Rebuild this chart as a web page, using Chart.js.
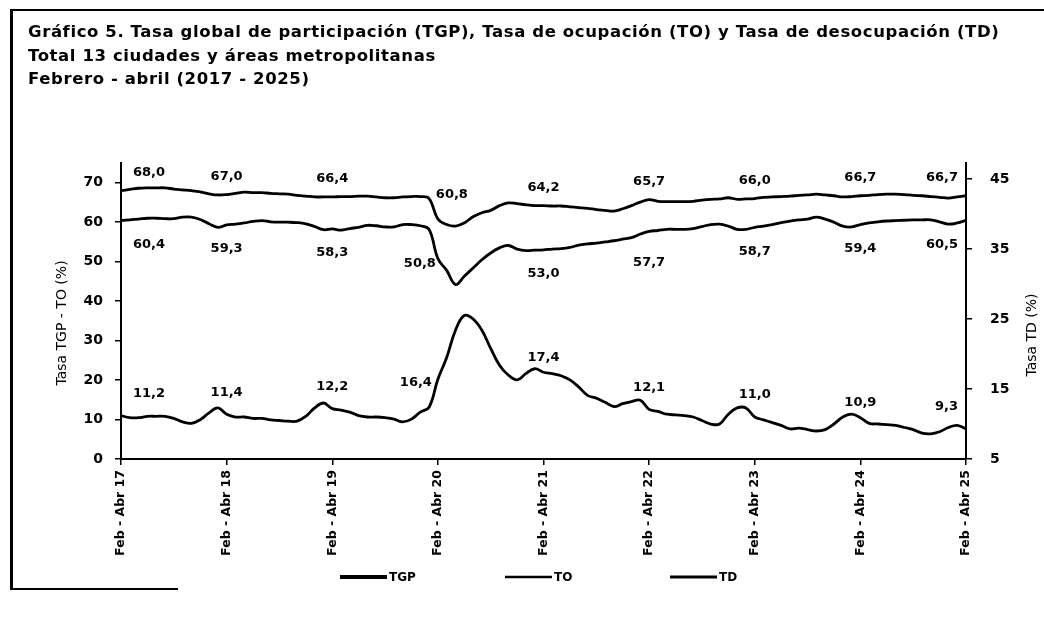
<!DOCTYPE html>
<html lang="es">
<head>
<meta charset="UTF-8">
<title>Gráfico 5 - TGP, TO y TD</title>
<script src="https://cdn.jsdelivr.net/npm/chart.js"></script>
<style>
  html, body { margin: 0; padding: 0; background: #fff; }
  .pagina { position: relative; width: 1044px; height: 617px; overflow: hidden; }
  canvas { position: absolute; left: 0; top: 0; }
  .titulo {
    position: absolute; left: 28px; top: 20px;
    font: bold 16.5px 'DejaVu Sans', sans-serif;
    letter-spacing: 0.6px;
    line-height: 23.6px; color: #000; white-space: nowrap;
  }
  .marco { position: absolute; background: #000; }
</style>
</head>
<body>
<div class="pagina">
  <canvas id="grafico" width="1044" height="617"></canvas>
  <div class="marco" style="left:10px; top:9px; width:1034px; height:2px;"></div>
  <div class="marco" style="left:10px; top:9px; width:2.5px; height:581px;"></div>
  <div class="marco" style="left:10px; top:588px; width:168px; height:2px;"></div>
  <div class="titulo">
    Gráfico 5. Tasa global de participación (TGP), Tasa de ocupación (TO) y Tasa de desocupación (TD)<br>
    Total 13 ciudades y áreas metropolitanas<br>
    Febrero - abril (2017 - 2025)
  </div>
</div>

<script>
  // trimestres móviles feb-abr 2017 ... feb-abr 2025
  const MESES = ["Ene", "Feb", "Mar", "Abr", "May", "Jun", "Jul", "Ago", "Sep", "Oct", "Nov", "Dic"];
  const trimestres = [];
  for (let i = 0; i < 97; i++) {
    const anio = 17 + Math.floor((3 + i) / 12);
    trimestres.push(MESES[(1 + i) % 12] + " - " + MESES[(3 + i) % 12] + " " + anio);
  }

  const tgp = [
    68.0, 68.3, 68.6, 68.7, 68.7, 68.7, 68.4, 68.2, 68.0, 67.7, 67.2, 66.9,
    67.0, 67.3, 67.6, 67.5, 67.5, 67.3, 67.2, 67.1, 66.8, 66.6, 66.4, 66.4,
    66.4, 66.5, 66.5, 66.6, 66.6, 66.4, 66.2, 66.2, 66.4, 66.5, 66.5, 66.0,
    60.8, 59.4, 59.0, 59.8, 61.4, 62.4, 63.0, 64.2, 64.9, 64.7, 64.4, 64.2,
    64.2, 64.1, 64.1, 63.9, 63.7, 63.5, 63.2, 63.0, 62.8, 63.4, 64.2, 65.1,
    65.7, 65.3, 65.2, 65.2, 65.2, 65.3, 65.6, 65.8, 65.9, 66.2, 65.8, 65.9,
    66.0, 66.3, 66.4, 66.5, 66.6, 66.8, 66.9, 67.1, 66.9, 66.7, 66.4, 66.5,
    66.7, 66.8, 67.0, 67.1, 67.1, 67.0, 66.8, 66.7, 66.5, 66.3, 66.1, 66.4,
    66.7
  ];
  const to = [
    60.4, 60.6, 60.8, 61.0, 61.0, 60.9, 60.9, 61.3, 61.3, 60.7, 59.6, 58.7,
    59.3, 59.5, 59.8, 60.2, 60.4, 60.1, 60.0, 60.0, 59.9, 59.6, 58.9, 58.1,
    58.3, 58.0, 58.4, 58.7, 59.2, 59.1, 58.8, 58.8, 59.4, 59.4, 59.1, 58.2,
    50.8, 47.8, 44.2, 46.3, 48.4, 50.5, 52.2, 53.5, 54.1, 53.2, 52.8, 52.9,
    53.0, 53.2, 53.3, 53.6, 54.2, 54.5, 54.7, 55.0, 55.3, 55.7, 56.1, 57.0,
    57.7, 57.9, 58.2, 58.2, 58.2, 58.4, 58.9, 59.4, 59.5, 59.0, 58.2, 58.2,
    58.7, 59.0, 59.4, 59.9, 60.3, 60.6, 60.8, 61.3, 60.8, 60.0, 59.0, 58.8,
    59.4, 59.8, 60.1, 60.3, 60.4, 60.5, 60.6, 60.6, 60.6, 60.1, 59.5, 59.8,
    60.5
  ];
  const td = [
    11.2, 10.9, 10.9, 11.1, 11.1, 11.1, 10.8, 10.3, 10.1, 10.6, 11.6, 12.3,
    11.4, 11.0, 11.0, 10.8, 10.8, 10.6, 10.5, 10.4, 10.4, 11.1, 12.3, 13.0,
    12.2, 12.0, 11.7, 11.2, 11.0, 11.0, 10.9, 10.7, 10.3, 10.7, 11.7, 12.4,
    16.4, 19.5, 23.4, 25.5, 25.0, 23.4, 20.8, 18.4, 17.0, 16.3, 17.2, 17.9,
    17.4, 17.2, 16.9, 16.3, 15.3, 14.1, 13.7, 13.1, 12.5, 12.9, 13.2, 13.4,
    12.1, 11.8, 11.4, 11.3, 11.2, 11.0, 10.5, 10.0, 10.0, 11.4, 12.3, 12.3,
    11.0, 10.6, 10.2, 9.8, 9.3, 9.4, 9.2, 9.0, 9.2, 10.0, 11.0, 11.4,
    10.9, 10.1, 10.0, 9.9, 9.8, 9.5, 9.2, 8.7, 8.6, 8.9, 9.5, 9.8,
    9.3
  ];

  const ticksTasa = [0, 10, 20, 30, 40, 50, 60, 70];
  const ticksTD = [5, 15, 25, 35, 45];

  const FUENTE = "'DejaVu Sans', sans-serif";

  // valores sobre las series cada feb-abr
  const etiquetasDatos = {
    id: "etiquetasDatos",
    afterDatasetsDraw(chart, args, opts) {
      const { ctx, chartArea } = chart;
      ctx.save();
      ctx.font = "bold 13px " + FUENTE;
      ctx.fillStyle = "#000";
      ctx.textAlign = "center";
      ctx.textBaseline = "middle";
      chart.data.datasets.forEach((ds, d) => {
        const pos = opts.posiciones[ds.label];
        chart.getDatasetMeta(d).data.forEach((pt, i) => {
          if (i % 12 !== 0) return;
          const txt = ds.data[i].toFixed(1).replace(".", ",");
          const w = ctx.measureText(txt).width;
          const p = (pos.especial && pos.especial[i]) || pos;
          let x = pt.x + (p.dx || 0);
          x = Math.max(chartArea.left + 12 + w / 2, Math.min(chartArea.right - 8 - w / 2, x));
          ctx.fillText(txt, x, pt.y + p.dy);
        });
      });
      ctx.restore();
    }
  };

  // títulos de ejes, ambos leídos de abajo hacia arriba
  const titulosEjes = {
    id: "titulosEjes",
    afterDraw(chart, args, opts) {
      const { ctx } = chart;
      ctx.save();
      ctx.font = "14px " + FUENTE;
      ctx.fillStyle = "#000";
      ctx.textAlign = "center";
      ctx.textBaseline = "middle";
      opts.titulos.forEach(t => {
        ctx.save();
        ctx.translate(t.x, t.y);
        ctx.rotate(-Math.PI / 2);
        ctx.fillText(t.texto, 0, 0);
        ctx.restore();
      });
      ctx.restore();
    }
  };

  const leyenda = {
    id: "leyenda",
    afterDraw(chart, args, opts) {
      const { ctx } = chart;
      ctx.save();
      ctx.font = "bold 12px " + FUENTE;
      ctx.fillStyle = "#000";
      ctx.strokeStyle = "#000";
      ctx.textAlign = "left";
      ctx.textBaseline = "middle";
      chart.data.datasets.forEach((ds, d) => {
        const x = opts.x + d * opts.paso;
        ctx.lineWidth = opts.grosor[d];
        ctx.beginPath();
        ctx.moveTo(x, opts.y);
        ctx.lineTo(x + opts.largo, opts.y);
        ctx.stroke();
        ctx.fillText(ds.label, x + opts.largo + 2, opts.y + 1);
      });
      ctx.restore();
    }
  };

  const serie = (label, data, eje) => ({
    label: label,
    data: data,
    yAxisID: eje,
    borderColor: "#000",
    backgroundColor: "#000",
    borderWidth: 2.8,
    pointRadius: 0,
    tension: 0.4,
    fill: false
  });

  const ejeNegro = { color: "#000", width: 2 };

  new Chart(document.getElementById("grafico").getContext("2d"), {
    type: "line",
    data: {
      labels: trimestres,
      datasets: [serie("TGP", tgp, "y"), serie("TO", to, "y"), serie("TD", td, "y1")]
    },
    options: {
      responsive: false,
      animation: false,
      layout: { padding: { top: 163, bottom: 40, left: 0, right: 0 } },
      plugins: {
        legend: { display: false },
        tooltip: { enabled: false },
        etiquetasDatos: {
          posiciones: {
            TGP: { dy: -18, especial: { 36: { dx: 14, dy: -24 } } },
            TO: { dy: 24, especial: { 36: { dx: -18, dy: 5 }, 60: { dy: 31 } } },
            TD: { dy: -22, especial: { 36: { dx: -22, dy: 3 }, 48: { dy: -15 }, 84: { dy: -15 } } }
          }
        },
        titulosEjes: {
          titulos: [
            { texto: "Tasa TGP - TO (%)", x: 62, y: 323 },
            { texto: "Tasa TD (%)", x: 1032, y: 335 }
          ]
        },
        leyenda: { x: 340, y: 577, paso: 165, largo: 47, grosor: [4, 2.5, 3] }
      },
      scales: {
        x: {
          afterBuildTicks: s => { s.ticks = s.ticks.filter(t => t.value % 12 === 0); },
          afterFit: s => { s.height = 118; },
          grid: { drawOnChartArea: false, color: "#000", tickLength: 6, lineWidth: 1.5 },
          border: ejeNegro,
          ticks: {
            autoSkip: false, minRotation: 90, maxRotation: 90, padding: 5,
            color: "#000", font: { family: FUENTE, size: 12.5, weight: "bold" },
            callback: function (v) { return this.getLabelForValue(v); }
          }
        },
        y: {
          position: "left", min: 0, max: 75,
          afterBuildTicks: s => { s.ticks = ticksTasa.map(v => ({ value: v })); },
          afterFit: s => { s.width = 121; },
          grid: { drawOnChartArea: false, color: "#000", tickLength: 6, lineWidth: 1.5 },
          border: ejeNegro,
          ticks: { padding: 12, color: "#000", font: { family: FUENTE, size: 14, weight: "bold" } }
        },
        y1: {
          position: "right", min: 5, max: 47.3,
          afterBuildTicks: s => { s.ticks = ticksTD.map(v => ({ value: v })); },
          afterFit: s => { s.width = 78; },
          grid: { drawOnChartArea: false, color: "#000", tickLength: 6, lineWidth: 1.5 },
          border: ejeNegro,
          ticks: { padding: 18, color: "#000", font: { family: FUENTE, size: 14, weight: "bold" } }
        }
      }
    },
    plugins: [etiquetasDatos, titulosEjes, leyenda]
  });
</script>
</body>
</html>
